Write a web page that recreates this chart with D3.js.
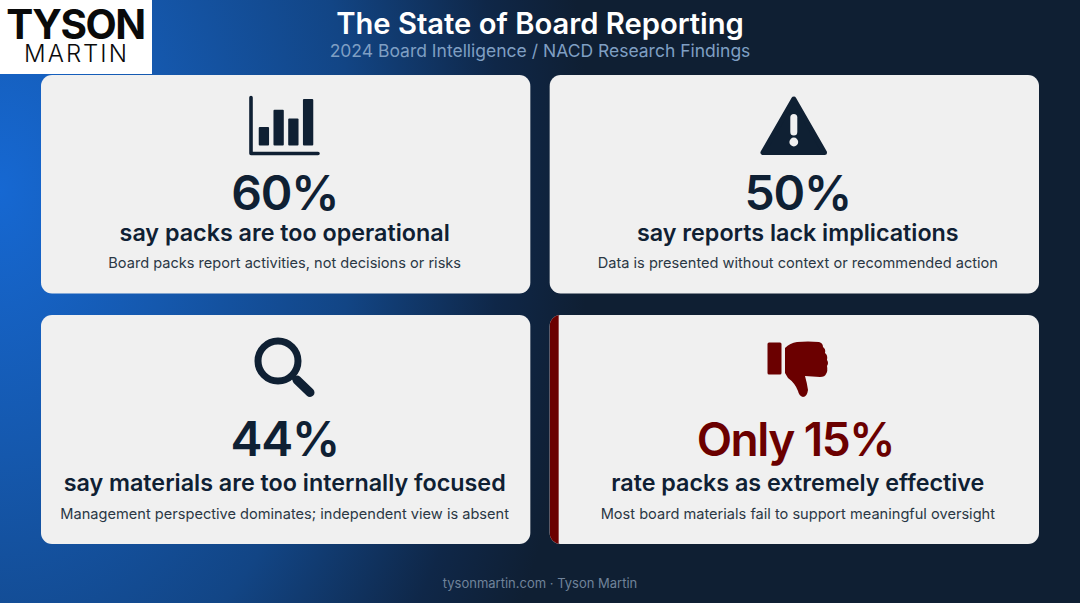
<!DOCTYPE html>
<html>
<head>
<meta charset="utf-8">
<script src="https://cdn.jsdelivr.net/npm/d3@7"></script>
<style>
  html, body { margin: 0; padding: 0; background: #0f1f33; }
  svg { display: block; }
  text { font-family: Inter, "Noto Sans", sans-serif; text-anchor: middle; }
</style>
</head>
<body>
<svg width="1080" height="603"></svg>
<script>
const titleText = 'The State of Board Reporting';
const subtitleText = '2024 Board Intelligence / NACD Research Findings';
const footerText = 'tysonmartin.com · Tyson Martin';

const stats = ['60%', '50%', '44%', 'Only 15%'];
const headlines = [
    'say packs are too operational',
    'say reports lack implications',
    'say materials are too internally focused',
    'rate packs as extremely effective'
];
const details = [
    'Board packs report activities, not decisions or risks',
    'Data is presented without context or recommended action',
    'Management perspective dominates; independent view is absent',
    'Most board materials fail to support meaningful oversight'
];
const iconBars = [19, 37, 28, 48];

const navy = '#0f2033';
const maroon = '#6b0000';

const svg = d3.select('svg');
const defs = svg.append('defs');

const bg = defs.append('radialGradient')
    .attr('id', 'bg')
    .attr('gradientUnits', 'userSpaceOnUse')
    .attr('cx', 0).attr('cy', 190).attr('r', 590)
    .attr('gradientTransform', 'translate(0 190) scale(1 1.5) translate(0 -190)');
bg.append('stop').attr('offset', 0).attr('stop-color', '#1668d2');
bg.append('stop').attr('offset', 0.3).attr('stop-color', '#1558ad');
bg.append('stop').attr('offset', 0.6).attr('stop-color', '#124585');
bg.append('stop').attr('offset', 0.85).attr('stop-color', '#0f2748');
bg.append('stop').attr('offset', 1).attr('stop-color', '#0f1f33');

svg.append('rect').attr('width', 1080).attr('height', 603).attr('fill', 'url(#bg)');

// logo box
svg.append('rect').attr('width', 152).attr('height', 74).attr('fill', '#fff');
svg.append('text').attr('x', 75.5).attr('y', 39)
    .attr('font-size', 40.5).attr('font-weight', 700).attr('letter-spacing', -1.4)
    .attr('fill', '#0a0a0a').text('TYSON');
svg.append('text').attr('x', 76.5).attr('y', 62)
    .attr('font-size', 24).attr('font-weight', 300).attr('letter-spacing', 2)
    .attr('fill', '#0a0a0a').text('MARTIN');

svg.append('text').attr('x', 540).attr('y', 34)
    .attr('font-size', 29.2).attr('font-weight', 600).attr('fill', '#fff').text(titleText);
svg.append('text').attr('x', 540).attr('y', 57)
    .attr('font-size', 17.5).attr('fill', '#7f9fc3').text(subtitleText);
svg.append('text').attr('x', 540).attr('y', 588)
    .attr('font-size', 13).attr('fill', '#70839a').text(footerText);

// cards
const col = d3.scaleBand().domain([0, 1]).range([41, 1039]).paddingInner(0.038);
const rowTop = d3.scaleOrdinal().domain([0, 1]).range([75, 315]);
const rowHeight = d3.scaleOrdinal().domain([0, 1]).range([218.5, 229]);
const statY = d3.scaleOrdinal().domain([0, 1]).range([210, 456]);
const headY = d3.scaleOrdinal().domain([0, 1]).range([240.5, 491]);
const detailY = d3.scaleOrdinal().domain([0, 1]).range([267.5, 518.5]);

const cards = svg.selectAll('g.card')
    .data(stats.map((s, i) => ({ i, stat: s, head: headlines[i], detail: details[i], c: i % 2, r: i >> 1 })))
    .join('g')
    .attr('class', 'card')
    .attr('transform', d => `translate(${col(d.c)},${rowTop(d.r)})`);

cards.append('rect')
    .attr('width', col.bandwidth())
    .attr('height', d => rowHeight(d.r))
    .attr('rx', 11)
    .attr('fill', '#f0f0f0');

// red edge on the last card
defs.append('clipPath').attr('id', 'edge').append('rect')
    .attr('width', 9).attr('height', rowHeight(1));
cards.filter(d => d.i === 3).append('rect')
    .attr('width', 30)
    .attr('height', rowHeight(1))
    .attr('rx', 11)
    .attr('fill', maroon)
    .attr('clip-path', 'url(#edge)');

// text in the right column sits a little off the card centre
const textX = d => col.bandwidth() / 2 + (d.c ? 3.5 : -1);

cards.append('text')
    .attr('x', d => textX(d) - (d.i === 3 ? 2.5 : 0))
    .attr('y', d => statY(d.r) - rowTop(d.r))
    .attr('font-size', d => d.i === 3 ? 46 : 48)
    .attr('letter-spacing', d => d.i === 3 ? -1.5 : -1.2)
    .attr('font-weight', 600)
    .attr('fill', d => d.i === 3 ? maroon : navy)
    .text(d => d.stat);

cards.append('text')
    .attr('x', textX)
    .attr('y', d => headY(d.r) - rowTop(d.r))
    .attr('font-size', 23.3).attr('font-weight', 600)
    .attr('fill', navy)
    .text(d => d.head);

cards.append('text')
    .attr('x', textX)
    .attr('y', d => detailY(d.r) - rowTop(d.r))
    .attr('font-size', 14.6)
    .attr('fill', '#2a3744')
    .text(d => d.detail);

// icon 1, small bar chart
const icon1 = svg.append('g');
const barX = d3.scaleBand().domain(d3.range(iconBars.length)).range([258, 314]).paddingInner(0.3).paddingOuter(0.05);
const barY = d3.scaleLinear().domain([0, 48]).range([145.5, 99]);
icon1.selectAll('rect')
    .data(iconBars)
    .join('rect')
    .attr('x', (d, i) => barX(i))
    .attr('y', d => barY(d))
    .attr('width', barX.bandwidth())
    .attr('height', d => barY(0) - barY(d))
    .attr('rx', 1)
    .attr('fill', navy);
icon1.append('path')
    .attr('d', 'M251,97.5V153.5H318')
    .attr('fill', 'none').attr('stroke', navy).attr('stroke-width', 3.6)
    .attr('stroke-linecap', 'round').attr('stroke-linejoin', 'round');

// icon 2, warning triangle
const icon2 = svg.append('g');
icon2.append('path')
    .attr('d', 'M793.8,99L763,152.5H824.5Z')
    .attr('fill', navy).attr('stroke', navy).attr('stroke-width', 5).attr('stroke-linejoin', 'round');
icon2.append('path')
    .attr('d', 'M793.8,117.5V132')
    .attr('stroke', '#f0f0f0').attr('stroke-width', 7).attr('stroke-linecap', 'round');
icon2.append('circle').attr('cx', 793.8).attr('cy', 142).attr('r', 4.4).attr('fill', '#f0f0f0');

// icon 3, magnifier
const icon3 = svg.append('g');
icon3.append('circle')
    .attr('cx', 278).attr('cy', 361).attr('r', 20)
    .attr('fill', 'none').attr('stroke', navy).attr('stroke-width', 7);
icon3.append('path').attr('d', 'M291,375L297,381')
    .attr('stroke', navy).attr('stroke-width', 5);
icon3.append('path').attr('d', 'M297,380L310,392.5')
    .attr('stroke', navy).attr('stroke-width', 9).attr('stroke-linecap', 'round');

// icon 4, thumbs down
const icon4 = svg.append('g').attr('fill', maroon);
icon4.append('rect').attr('x', 767.5).attr('y', 342.5).attr('width', 14).attr('height', 32).attr('rx', 1.5);
icon4.append('path')
    .attr('d', 'M785,348Q790,343 797,342Q808,341 819,342Q823,343 823,347Q826,349 825,353Q828,355 827,360Q829,363 827,366Q828,371 826,374Q825,377 820,377L805,376Q807,383 808,390Q807,397 803,397Q799,396 798,391Q795,383 788,378L785,373Z');

</script>
</body>
</html>
